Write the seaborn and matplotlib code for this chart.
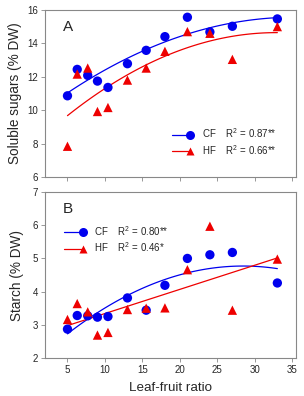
import numpy as np
import pandas as pd
import matplotlib
matplotlib.use("Agg")
import matplotlib.pyplot as plt
from matplotlib.legend_handler import HandlerLine2D
import seaborn as sns

# leaf-fruit ratios used in both panels
ratio = [5, 6.3, 7.7, 9, 10.4, 13, 15.5, 18, 21, 24, 27, 33]

# Panel A: soluble sugars (% DW)
sugar_cf = [10.86, 12.44, 12.08, 11.74, 11.36, 12.78, 13.58, 14.40, 15.56, 14.68, 15.02, 15.46]
sugar_hf = [7.84, 12.16, 12.52, 9.92, 10.16, 11.80, 12.52, 13.52, 14.70, 14.60, 13.04, 15.00]

# Panel B: starch (% DW)
starch_cf = [2.87, 3.28, 3.27, 3.23, 3.25, 3.81, 3.44, 4.19, 5.00, 5.11, 5.18, 4.26]
starch_hf = [3.16, 3.64, 3.39, 2.69, 2.77, 3.46, 3.50, 3.51, 4.66, 5.97, 3.44, 4.98]

r2_labels = {
    "A": ["CF    R$^2$ = 0.87**", "HF    R$^2$ = 0.66**"],
    "B": ["CF    R$^2$ = 0.80**", "HF    R$^2$ = 0.46*"],
}


class MarkerAtEnd(HandlerLine2D):
    # line segment with the marker drawn only at its right end
    def create_artists(self, legend, orig_handle, xdescent, ydescent,
                       width, height, fontsize, trans):
        arts = super().create_artists(legend, orig_handle, xdescent, ydescent,
                                      width, height, fontsize, trans)
        arts[0].set_markevery([2])
        return arts


sns.set_style("white")
plt.rcParams["font.family"] = ["Liberation Sans", "DejaVu Sans"]
plt.rcParams["mathtext.fontset"] = "custom"
plt.rcParams["mathtext.rm"] = "Liberation Sans"

fig = plt.figure(figsize=(3.04, 3.96), dpi=100)
ax_a = fig.add_axes([0.148, 0.553, 0.826, 0.422])
ax_b = fig.add_axes([0.148, 0.096, 0.826, 0.419])

blue = "#0000ee"
red = "#ee0000"


def panel(ax, y_cf, y_hf, deg_cf, deg_hf, labels, loc, anchor):
    df = pd.DataFrame({"x": ratio + ratio, "y": y_cf + y_hf,
                       "grp": ["CF"] * len(ratio) + ["HF"] * len(ratio)})
    sns.scatterplot(data=df, x="x", y="y", hue="grp", style="grp",
                    markers={"CF": "o", "HF": "^"},
                    palette={"CF": blue, "HF": red},
                    s=45, edgecolor="none", legend=False, ax=ax, zorder=3)
    xs = np.linspace(min(ratio), max(ratio), 100)
    handles = []
    for y, deg, c, m, ms, lab in [(y_cf, deg_cf, blue, "o", 6.5, labels[0]),
                                  (y_hf, deg_hf, red, "^", 6.0, labels[1])]:
        fit = np.polyval(np.polyfit(ratio, y, deg), xs)
        sns.lineplot(x=xs, y=fit, color=c, lw=0.9, ax=ax, zorder=2)
        h, = ax.plot([], [], color=c, lw=0.9, marker=m, ms=ms,
                     mec="none", label=lab)
        handles.append(h)
    ax.legend(handles=handles, loc=loc, bbox_to_anchor=anchor,
              frameon=False, fontsize=7, numpoints=1, handlelength=1.9,
              handletextpad=1.2, labelspacing=0.3, borderpad=0.2,
              handler_map={h: MarkerAtEnd() for h in handles})


panel(ax_a, sugar_cf, sugar_hf, 2, 2, r2_labels["A"], "lower right", (0.95, 0.08))
panel(ax_b, starch_cf, starch_hf, 2, 1, r2_labels["B"], "upper left", (0.05, 0.85))

for ax, lab, ylim, yt in [(ax_a, "A", (6, 16), [6, 8, 10, 12, 14, 16]),
                          (ax_b, "B", (2, 7), [2, 3, 4, 5, 6, 7])]:
    ax.set_xlim(2, 35.5)
    ax.set_ylim(*ylim)
    ax.set_yticks(yt)
    ax.set_xticks([5, 10, 15, 20, 25, 30, 35])
    ax.tick_params(direction="out", length=3, width=0.6, color="#888888",
                   labelsize=7, pad=2, left=True, bottom=True)
    for s in ax.spines.values():
        s.set_color("#888888")
        s.set_linewidth(0.8)
    ax.text(0.07, 0.9, lab, transform=ax.transAxes, fontsize=11, va="center")
    ax.set_xlabel("")

ax_a.set_xticklabels([])
ax_a.set_ylabel("Soluble sugars (% DW)", fontsize=9.8, labelpad=4)
ax_b.set_ylabel("Starch (% DW)", fontsize=9.8, labelpad=6)
ax_b.set_xlabel("Leaf-fruit ratio", fontsize=9.6, labelpad=5)

fig.savefig("out.png", dpi=100)
